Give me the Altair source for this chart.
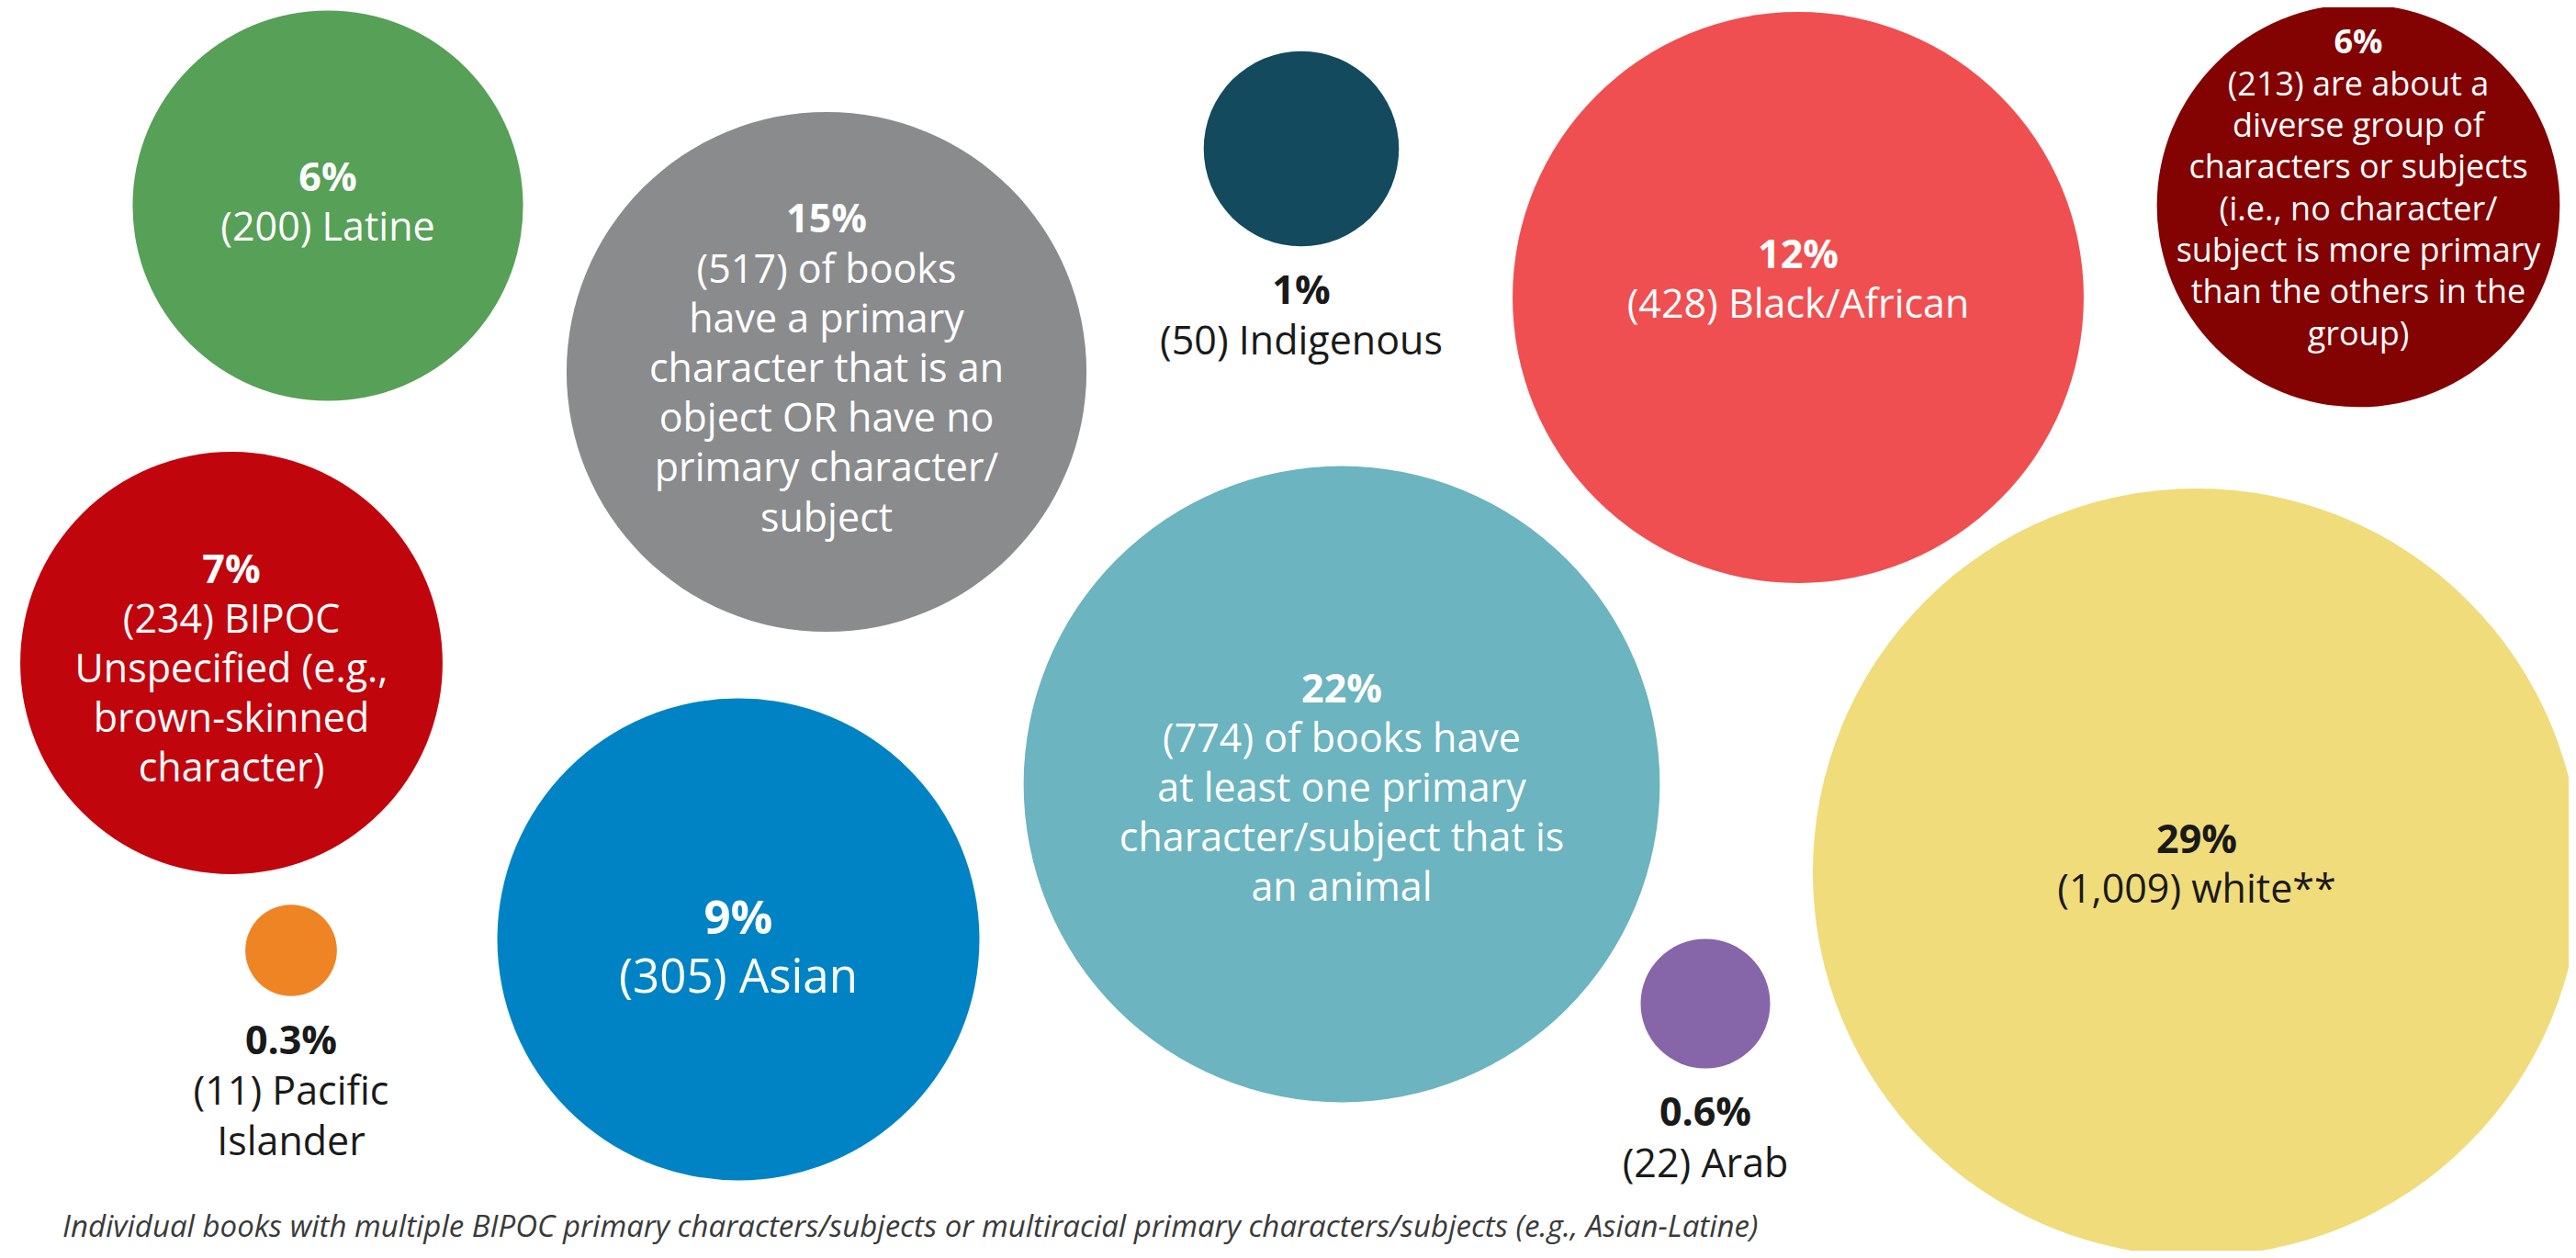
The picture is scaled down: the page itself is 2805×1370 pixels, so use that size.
import altair as alt
import pandas as pd

# ---------------- data ----------------
names = ["Latine", "Object / no primary character", "Indigenous", "Black/African",
         "Diverse group", "BIPOC unspecified", "Pacific Islander", "Asian",
         "Animal", "Arab", "white"]
books = [200, 517, 50, 428, 213, 234, 11, 305, 774, 22, 1009]
percents = ["6%", "15%", "1%", "12%", "6%", "7%", "0.3%", "9%", "22%", "0.6%", "29%"]
descriptions = [
    ["(200) Latine"],
    ["(517) of books", "have a primary", "character that is an", "object OR have no",
     "primary character/", "subject"],
    ["(50) Indigenous"],
    ["(428) Black/African"],
    ["(213) are about a", "diverse group of", "characters or subjects", "(i.e., no character/",
     "subject is more primary", "than the others in the", "group)"],
    ["(234) BIPOC", "Unspecified (e.g.,", "brown-skinned", "character)"],
    ["(11) Pacific", "Islander"],
    ["(305) Asian"],
    ["(774) of books have", "at least one primary", "character/subject that is", "an animal"],
    ["(22) Arab"],
    ["(1,009) white**"],
]
footnote = ("Individual books with multiple BIPOC primary characters/subjects or multiracial "
            "primary characters/subjects (e.g., Asian-Latine)")

# ---------------- layout (bubble centres on the reference's pixel grid) ----------------
center_x = [357, 900, 1417, 1958, 2568, 252, 317, 804, 1461, 1857, 2392]
center_y = [224, 405, 162, 324, 224, 722, 1035, 1023, 854, 1093, 950]
size_group = ["a", "b", "a", "a", "a", "a", "a", "a", "b", "a", "c"]
radius_per_sqrt = {"a": 15.03, "b": 12.45, "c": 13.16}   # bubble radius / sqrt(books)
label_place = ["in", "in", "below", "in", "in", "in", "below", "in", "in", "below", "in"]
label_dy = [-2, -2, 0, -18, -18, 8, 0, 11, 6, 0, -7]
label_px = [43, 43, 43, 43, 36, 43, 43, 51, 43, 43, 43]

# ---------------- styles ----------------
bubble_colors = ["#57A057", "#8A8B8D", "#134A5D", "#EF4F50", "#830202", "#C1050D",
                 "#EF8425", "#0083C4", "#6BB4C0", "#8665A8", "#F0DC7B"]
label_colors = ["#FFFFFF", "#FFFFFF", "#1A1A1A", "#FFFFFF", "#FFFFFF", "#FFFFFF",
                "#1A1A1A", "#FFFFFF", "#FFFFFF", "#1A1A1A", "#1A1A1A"]
FONT = "Open Sans"
LINE_IN = 1.26
LINE_BELOW = 1.28

W, H = 2789, 1354
OFF = 8

bubbles = pd.DataFrame({
    "name": names, "books": books, "cx": center_x, "cy": center_y, "group": size_group,
})

rows = []
for j, name in enumerate(names):
    lines = [percents[j]] + descriptions[j]
    for i, t in enumerate(lines):
        rows.append({
            "name": name, "books": books[j], "cx": center_x[j], "cy": center_y[j],
            "i": i, "n": len(lines), "text": t, "kind": "pct" if i == 0 else "desc",
            "place": label_place[j], "dy": label_dy[j], "fs": label_px[j],
            "tcolor": label_colors[j],
        })
lines_df = pd.DataFrame(rows)

xs = alt.X("cx:Q", scale=alt.Scale(domain=[OFF, OFF + W], nice=False, zero=False), axis=None)
ys = alt.Y("cy:Q", scale=alt.Scale(domain=[OFF, OFF + H], nice=False, zero=False, reverse=True), axis=None)

layers = []
for g, k in radius_per_sqrt.items():
    gmax = max(b for b, gg in zip(books, size_group) if gg == g)
    layers.append(
        alt.Chart(bubbles)
        .transform_filter(alt.datum.group == g)
        .mark_circle(opacity=1, clip=True)
        .encode(
            x=xs, y=ys,
            size=alt.Size("books:Q", scale=alt.Scale(type="linear", zero=True, domain=[0, gmax],
                                                     range=[0, 4 * k * k * gmax]), legend=None),
            color=alt.Color("name:N", scale=alt.Scale(domain=names, range=bubble_colors), legend=None),
        )
    )

ka = radius_per_sqrt["a"]
ty_expr = (
    f"datum.place == 'in' ? datum.cy + datum.dy + (datum.i - (datum.n - 1) / 2) * datum.fs * {LINE_IN}"
    f" : datum.cy + {ka} * sqrt(datum.books) + 50 + datum.i * datum.fs * {LINE_BELOW}"
)

text_base = alt.Chart(lines_df).transform_calculate(ty=ty_expr)
ty = alt.Y("ty:Q", scale=alt.Scale(domain=[OFF, OFF + H], nice=False, zero=False, reverse=True), axis=None)

for kind, weight in [("pct", "bold"), ("desc", "normal")]:
    layers.append(
        text_base.transform_filter(alt.datum.kind == kind)
        .mark_text(font=FONT, fontWeight=weight, align="center", baseline="middle")
        .encode(
            x=xs, y=ty, text="text:N",
            size=alt.Size("fs:Q", scale=None, legend=None),
            color=alt.Color("tcolor:N", scale=None, legend=None),
        )
    )

layers.append(
    alt.Chart(pd.DataFrame({"note": [footnote]}))
    .mark_text(font=FONT, fontStyle="italic", fontSize=33, align="left", baseline="bottom",
               color="#3A3A3A")
    .encode(x=alt.value(60), y=alt.value(1346), text="note:N")
)

chart = (
    alt.layer(*layers)
    .resolve_scale(size="independent", color="independent")
    .properties(width=W, height=H, padding=0, autosize=alt.AutoSizeParams(type="none"),
                background="#FFFFFF")
    .configure_view(stroke=None)
)

chart.save("out.html", embed_options={"renderer": "svg", "actions": False})
